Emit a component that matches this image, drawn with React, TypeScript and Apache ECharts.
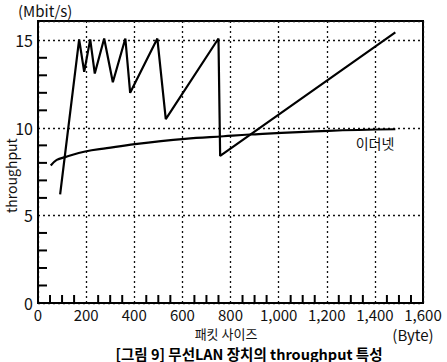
import React, { useEffect, useRef } from "react";
import * as echarts from "echarts";

const wirelessX = [92, 171, 192, 217, 236, 275, 311, 363, 383, 496, 531, 750, 757, 1485];
const wirelessY = [6.2, 15.05, 13.2, 15.05, 13.1, 15.1, 12.6, 15.1, 12.0, 15.1, 10.5, 15.1, 8.4, 15.45];

const ethernetX = [53, 78, 113, 196, 286, 403, 611, 771, 880, 1208, 1485];
const ethernetY = [7.85, 8.17, 8.33, 8.65, 8.84, 9.07, 9.37, 9.52, 9.62, 9.83, 9.92];

const xTickLabels = ["0", "200", "400", "600", "800", "1,000", "1,200", "1,400", "1,600"];
const yTickLabels = ["0", "5", "10", "15"];
// minor tick positions (every 50 Byte, every 1 Mbit/s), skipping grid lines
const xMinorTicks = [50, 100, 150, 250, 300, 350, 450, 500, 550, 650, 700, 750, 850, 900, 950, 1050, 1100, 1150, 1250, 1300, 1350, 1450, 1500, 1550];
const yMinorTicks = [1, 2, 3, 4, 6, 7, 8, 9, 11, 12, 13, 14];

const FONT = "'Noto Sans CJK KR', 'Noto Sans', sans-serif";

export default function App() {
  const ref = useRef<HTMLDivElement>(null);
  useEffect(() => {
    if (!ref.current) return;
    const chart = echarts.init(ref.current, undefined, { renderer: "svg" });
    const dotted = { color: "#111", width: 1.3, type: [2, 3] as any };
    chart.setOption({
      animation: false,
      backgroundColor: "#fff",
      grid: { left: 38, right: 24, top: 21, bottom: 59, show: true, borderColor: "#000", borderWidth: 2 },
      xAxis: {
        type: "value",
        min: 0,
        max: 1600,
        interval: 200,
        axisLine: { show: true, lineStyle: { color: "#000", width: 2 } },
        axisTick: { show: false },
        splitLine: { show: true, lineStyle: dotted },
        axisLabel: {
          color: "#111",
          fontSize: 15,
          fontFamily: FONT,
          margin: 4,
          formatter: (v: number) => xTickLabels[Math.round(v / 200)] ?? "",
        },
      },
      yAxis: {
        type: "value",
        min: 0,
        max: 16.1,
        interval: 5,
        axisLine: { show: true, lineStyle: { color: "#000", width: 2 } },
        axisTick: { show: false },
        splitLine: { show: true, lineStyle: dotted },
        axisLabel: {
          color: "#111",
          fontSize: 16,
          fontFamily: FONT,
          margin: 5,
          showMaxLabel: false,
          formatter: (v: number) => yTickLabels[Math.round(v / 5)] ?? "",
        },
      },
      series: [
        {
          type: "custom",
          coordinateSystem: "cartesian2d",
          data: xMinorTicks.map((v) => [v, 0]),
          renderItem: (params: any, api: any) => {
            const p = api.coord([api.value(0), api.value(1)]);
            return {
              type: "rect",
              shape: { x: p[0] - 1, y: p[1] - 8, width: 2, height: 8 },
              style: { fill: "#000" },
            };
          },
        },
        {
          type: "custom",
          coordinateSystem: "cartesian2d",
          data: yMinorTicks.map((v) => [0, v]),
          renderItem: (params: any, api: any) => {
            const p = api.coord([api.value(0), api.value(1)]);
            return {
              type: "rect",
              shape: { x: p[0], y: p[1] - 1, width: 9, height: 2 },
              style: { fill: "#000" },
            };
          },
        },
        {
          type: "line",
          data: wirelessX.map((x, i) => [x, wirelessY[i]]),
          showSymbol: false,
          lineStyle: { color: "#000", width: 2.2 },
        },
        {
          type: "line",
          data: ethernetX.map((x, i) => [x, ethernetY[i]]),
          showSymbol: false,
          smooth: 0.4,
          lineStyle: { color: "#000", width: 2.2 },
        },
      ],
      graphic: [
        { type: "text", left: 18, top: 3, style: { text: "(Mbit/s)", fontSize: 15, fontFamily: FONT, fill: "#111" } },
        {
          type: "text",
          x: 4,
          y: 213,
          rotation: Math.PI / 2,
          style: { text: "throughput", fontSize: 14, fontFamily: FONT, fill: "#111", verticalAlign: "top" },
        },
        { type: "text", x: 375, y: 143, style: { text: "이더넷", fontSize: 14, fontFamily: FONT, fill: "#111", align: "center", verticalAlign: "middle" } },
        { type: "text", x: 226, y: 333, style: { text: "패킷 사이즈", fontSize: 13, fontFamily: FONT, fill: "#111", align: "center", verticalAlign: "middle" } },
        { type: "text", x: 413, y: 334, style: { text: "(Byte)", fontSize: 15, fontFamily: FONT, fill: "#111", align: "center", verticalAlign: "middle" } },
        {
          type: "text",
          x: 249,
          y: 353,
          style: {
            text: "[그림 9] 무선LAN 장치의 throughput 특성",
            fontSize: 14.5,
            fontWeight: "bold",
            fontFamily: FONT,
            fill: "#000",
            align: "center",
            verticalAlign: "middle",
          },
        },
      ],
    });
    return () => chart.dispose();
  }, []);
  return <div ref={ref} style={{ width: 447, height: 362, position: "absolute", left: 0, top: 0 }} />;
}
